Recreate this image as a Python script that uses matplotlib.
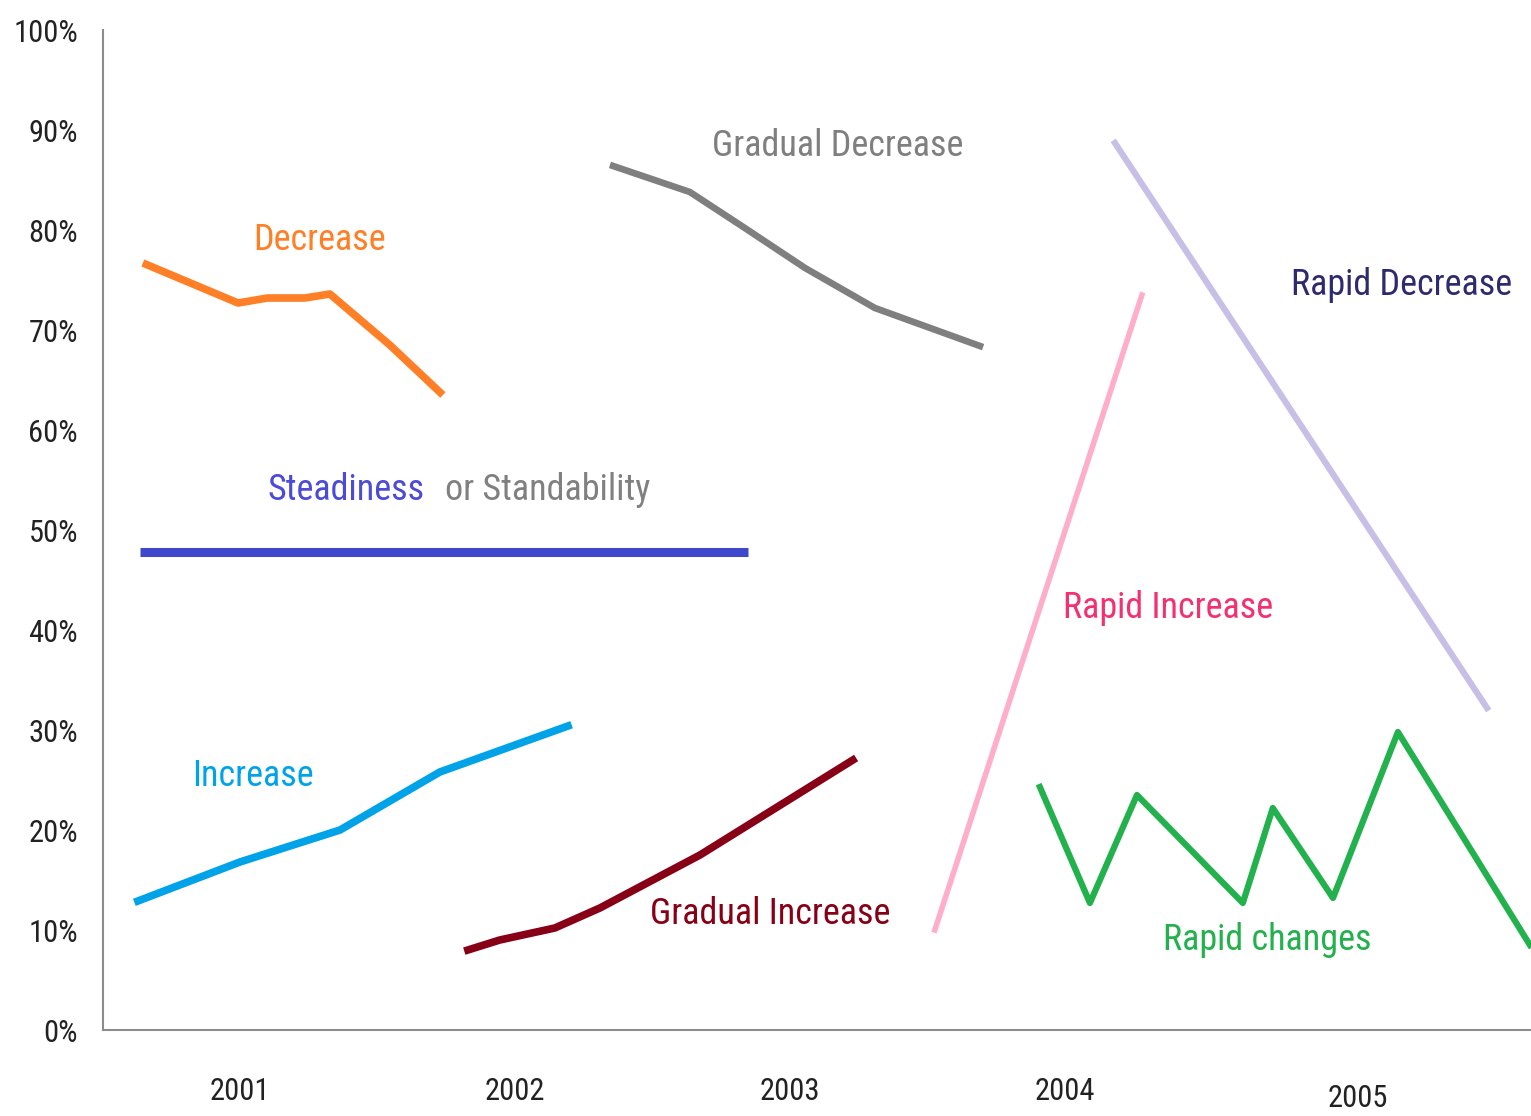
import matplotlib
matplotlib.use("Agg")
import matplotlib.pyplot as plt
import matplotlib.transforms as mtransforms
from matplotlib import font_manager

# pick a narrow font if we have one
names = set(f.name for f in font_manager.fontManager.ttflist)
narrow = [n for n in ['Roboto Condensed', 'Liberation Sans Narrow', 'Open Sans Condensed'] if n in names]
FAM = narrow[:1] + ['DejaVu Sans']
plt.rcParams['font.family'] = FAM

# data (x in years, y in percent)
dec_x = [2000.647, 2000.993, 2001.10, 2001.236, 2001.327, 2001.545, 2001.738]
dec_y = [76.7, 72.7, 73.2, 73.2, 73.6, 68.5, 63.5]

grad_dec_x = [2002.357, 2002.636, 2002.836, 2003.055, 2003.309, 2003.691]
grad_dec_y = [86.4, 83.8, 80.2, 76.2, 72.2, 68.4]

steady_x = [2000.636, 2002.847]
steady_y = [47.8, 47.8]

inc_x = [2000.629, 2001.0, 2001.364, 2001.727, 2002.193]
inc_y = [12.9, 16.8, 20.0, 25.8, 30.4]

grad_inc_x = [2001.829, 2001.945, 2002.145, 2002.309, 2002.673, 2003.229]
grad_inc_y = [8.0, 9.0, 10.2, 12.2, 17.5, 27.0]

rapid_inc_x = [2003.527, 2004.280]
rapid_inc_y = [10.0, 73.5]

rapid_dec_x = [2004.182, 2005.535]
rapid_dec_y = [88.7, 32.2]

changes_x = [2003.909, 2004.091, 2004.262, 2004.647, 2004.756, 2004.975, 2005.211, 2005.691]
changes_y = [24.3, 12.7, 23.5, 12.7, 22.2, 13.2, 29.8, 8.5]

years = [2001, 2002, 2003, 2004, 2005.065]
year_labels = ['2001', '2002', '2003', '2004', '2005']
pct_ticks = list(range(0, 101, 10))

fig = plt.figure(figsize=(15.31, 11.16), dpi=100)
ax = fig.add_axes([103 / 1531, 86 / 1116, 1 - 103 / 1531, 1000 / 1116])

ax.plot(dec_x, dec_y, color='#FF7F27', lw=5.5, solid_capstyle='butt')
ax.plot(grad_dec_x, grad_dec_y, color='#7F7F7F', lw=4.8)
ax.plot(steady_x, steady_y, color='#3F48CC', lw=6.5, solid_capstyle='butt')
ax.plot(inc_x, inc_y, color='#00A2E8', lw=5.5)
ax.plot(grad_inc_x, grad_inc_y, color='#880015', lw=5.5)
ax.plot(rapid_inc_x, rapid_inc_y, color='#FFAEC9', lw=4)
ax.plot(rapid_dec_x, rapid_dec_y, color='#C8BFE7', lw=4.5)
ax.plot(changes_x, changes_y, color='#22B14C', lw=4.5)

labels = [
    ('Decrease', 2001.291, 79.0, '#FF7F27'),
    ('Gradual Decrease', 2003.175, 88.4, '#7F7F7F'),
    ('Rapid Decrease', 2005.225, 74.5, '#2E2A6E'),
    ('Steadiness', 2001.385, 54.0, '#4B4BD8'),
    ('or Standability', 2002.12, 54.0, '#808080'),
    ('Rapid Increase', 2004.375, 42.2, '#F5306E'),
    ('Increase', 2001.047, 25.4, '#00A2E8'),
    ('Gradual Increase', 2002.927, 11.6, '#880015'),
    ('Rapid changes', 2004.735, 9.0, '#22B14C'),
]
for txt, x, y, c in labels:
    ax.text(x, y, txt, color=c, fontsize=26, ha='center', va='center')

ax.set_xlim(2000.502, 2005.695)
ax.set_ylim(0, 100)
ax.set_yticks(pct_ticks)
ax.set_yticklabels([f'{v}%' for v in pct_ticks])
ax.set_xticks(years)
ax.set_xticklabels(year_labels)
ax.tick_params(axis='y', length=0, pad=18, labelsize=22, labelcolor='#222222')
ax.tick_params(axis='x', length=0, pad=34, labelsize=22, labelcolor='#222222')

# 2005 sits a bit lower in the original
shift = mtransforms.ScaledTranslation(0, -7 / 100, fig.dpi_scale_trans)
lab = ax.get_xticklabels()[-1]
lab.set_transform(lab.get_transform() + shift)

for s in ['top', 'right']:
    ax.spines[s].set_visible(False)
for s in ['left', 'bottom']:
    ax.spines[s].set_color('#8C8C8C')
    ax.spines[s].set_linewidth(1.5)

fig.savefig('out.png', dpi=100)
